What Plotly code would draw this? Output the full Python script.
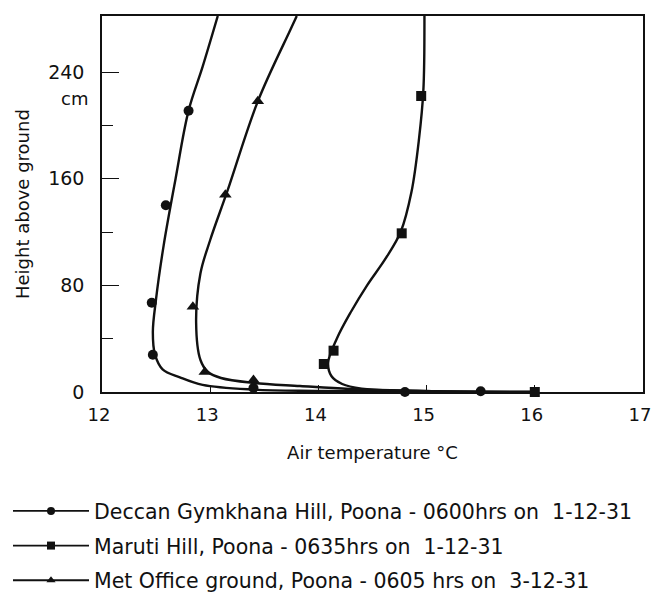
import plotly.graph_objects as go

# ---------------- data ----------------
series_names = [
    "Deccan Gymkhana Hill, Poona - 0600hrs on  1-12-31",
    "Maruti Hill, Poona - 0635hrs on  1-12-31",
    "Met Office ground, Poona - 0605 hrs on  3-12-31",
]

# Deccan Gymkhana Hill (circles): observed points
deccan_temp = [15.50, 14.80, 13.40, 12.47, 12.46, 12.59, 12.80]
deccan_height = [0.5, 0, 3, 28, 67, 140, 211]
# hand-drawn smooth curve (traced)
deccan_curve_temp = [16.0, 14.0, 13.4, 12.93, 12.72, 12.56, 12.49, 12.47,
                     12.50, 12.57, 12.68, 12.80, 12.93, 13.07]
deccan_curve_height = [0, 0.8, 1.8, 5.3, 11, 17, 28, 45,
                       70, 110, 160, 211, 244, 282]

# Maruti Hill (squares)
maruti_temp = [16.0, 14.05, 14.14, 14.77, 14.95]
maruti_height = [0, 21, 31, 119, 222]
maruti_curve_temp = [16.0, 14.8, 14.40, 14.22, 14.12, 14.09, 14.17, 14.30,
                     14.45, 14.62, 14.76, 14.86, 14.93, 14.97, 14.98]
maruti_curve_height = [0, 1, 2.5, 6, 12, 22, 40, 60,
                       80, 100, 120, 150, 190, 226, 282]

# Met Office ground (triangles)
met_temp = [13.40, 12.95, 12.84, 13.14, 13.44]
met_height = [9, 15, 64, 148, 218]
met_curve_temp = [16.0, 15.2, 14.29, 13.83, 13.40, 13.10, 12.98, 12.91, 12.87,
                  12.91, 13.00, 13.16, 13.44, 13.74, 13.80]
met_curve_height = [0, 0.5, 2.3, 4.5, 6.8, 10.5, 15, 24, 52,
                    89, 114, 151, 218, 271.5, 282]

x_ticks = [12, 13, 14, 15, 16, 17]
y_major = [0, 80, 160, 240]
y_minor = [40, 120, 200]

FONT = "DejaVu Sans"
INK = "#111111"

fig = go.Figure()

curves = [
    (deccan_curve_temp, deccan_curve_height, deccan_temp, deccan_height, "circle", 10),
    (maruti_curve_temp, maruti_curve_height, maruti_temp, maruti_height, "square", 10),
    (met_curve_temp, met_curve_height, met_temp, met_height, "triangle-up", 11),
]

for i, (cx, cy, mx, my, sym, sz) in enumerate(curves):
    fig.add_trace(go.Scatter(
        x=cx, y=cy, mode="lines",
        line=dict(color=INK, width=2.4, shape="spline", smoothing=1.0),
        showlegend=False, hoverinfo="skip", cliponaxis=True,
    ))
    fig.add_trace(go.Scatter(
        x=mx, y=my, mode="markers",
        marker=dict(symbol=sym, size=sz, color=INK),
        showlegend=False, cliponaxis=False,
    ))
    # legend entry
    fig.add_trace(go.Scatter(
        x=[None], y=[None], mode="lines+markers", name=series_names[i],
        line=dict(color=INK, width=1.8),
        marker=dict(symbol=sym, size=8, color=INK),
        legendgroup=f"g{i}", showlegend=True,
    ))

# page body adds an 8px offset; figure sized so the page is exactly 660x603
# plot area then spans page px x 102-643, y 16-392
fig.update_layout(
    width=644, height=587,
    margin=dict(l=94, r=9, t=8, b=203, autoexpand=False),
    paper_bgcolor="white", plot_bgcolor="white",
    font=dict(family=FONT, color=INK, size=17),
    showlegend=True,
    legend=dict(
        xref="container", yref="container",
        x=0.0, y=0.177, xanchor="left", yanchor="top",
        font=dict(family=FONT, size=20.5, color=INK),
        itemwidth=76,
        tracegroupgap=5, bgcolor="rgba(0,0,0,0)",
    ),
    xaxis=dict(
        range=[12, 17], tickvals=x_ticks, ticktext=[str(v) for v in x_ticks],
        ticks="inside", ticklen=7, tickwidth=1.3, tickcolor=INK,
        showline=True, linecolor=INK, linewidth=1.6, mirror=True,
        showgrid=False, zeroline=False,
        tickfont=dict(size=18), ticklabelstandoff=6, ticklabelshift=-3,
        ticklabeloverflow="allow",
        title=dict(text="Air temperature °C", font=dict(size=18), standoff=22),
    ),
    yaxis=dict(
        range=[0, 282], tickvals=y_major, ticktext=[str(v) for v in y_major],
        ticks="inside", ticklen=17, tickwidth=1.3, tickcolor=INK,
        minor=dict(tickvals=y_minor, ticks="inside", ticklen=11, tickwidth=1.3, tickcolor=INK),
        showline=True, linecolor=INK, linewidth=1.6, mirror=True,
        showgrid=False, zeroline=False,
        tickfont=dict(size=19), ticklabelstandoff=12,
    ),
)

# y-axis title (placed as text so the margins stay fixed)
fig.add_annotation(
    x=0, xref="paper", xanchor="center", xshift=-80,
    y=0.5, yref="paper", yanchor="middle",
    text="Height above ground", textangle=-90, showarrow=False,
    font=dict(size=18, color=INK, family=FONT),
)

fig.add_annotation(
    x=0, xref="paper", xanchor="right", xshift=-12,
    y=220, yref="y", yanchor="middle",
    text="cm", showarrow=False, font=dict(size=18, color=INK, family=FONT),
)

fig.write_html("out.html")
